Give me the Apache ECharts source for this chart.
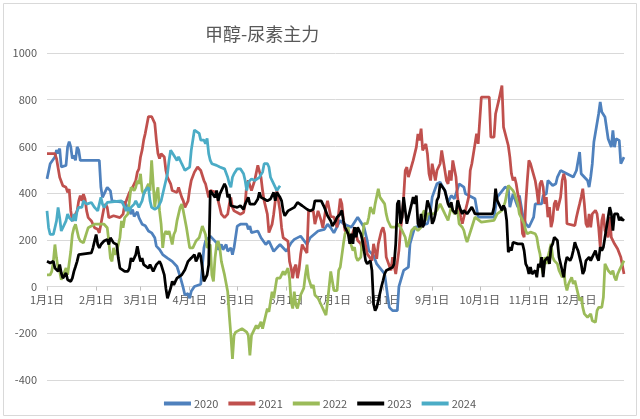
<!doctype html>
<html lang="zh">
<head>
  <meta charset="UTF-8">
  <title>甲醇-尿素主力</title>
  <style>
    html, body { margin: 0; padding: 0; background: #fff; }
  </style>
</head>
<body>
<div id="main" style="width: 640px;height: 419px"></div>
<script src="https://cdn.jsdelivr.net/npm/echarts@6/dist/echarts.min.js"></script>
<script>
    // day-of-year (0 = 1月1日) and spread value
    const years = ['2020', '2021', '2022', '2023', '2024'];
    const yTicks = [-400, -200, 0, 200, 400, 600, 800, 1000];
    const monthDays = [31, 28, 31, 30, 31, 30, 31, 31, 30, 31, 30, 31];

    const days2020 = [0,2,5,6,7,8,9,12,13,14,15,16,17,18,19,20,21,33,34,35,36,38,40,41,49,50,51,53,54,55,57,58,59,60,62,64,66,68,69,71,73,76,79,82,84,86,87,89,90,91,93,97,99,100,103,107,108,110,111,113,114,116,117,118,120,122,126,127,128,129,133,135,138,140,143,145,147,151,154,156,160,164,166,171,175,177,179,181,185,187,192,196,200,202,203,206,208,213,215,216,218,221,222,225,228,229,232,240,242,243,246,248,251,253,255,257,260,263,264,270,272,280,282,284,289,291,292,294,297,298,300,302,304,307,308,312,313,315,316,319,321,322,324,328,332,334,336,337,341,342,343,344,345,346,348,349,350,352,354,356,357,358,359,361,362,364];
    const vals2020 = [461,526,555,584,570,591,512,519,598,620,598,548,562,540,598,584,540,540,425,382,396,425,410,367,360,367,339,310,330,300,320,295,300,267,260,238,230,209,173,159,137,122,108,86,43,-7,-36,-30,-50,-20,0,10,166,195,216,187,158,180,158,180,151,166,137,166,259,267,267,245,259,231,238,209,180,195,151,166,180,151,187,202,216,180,209,238,245,267,252,230,283,269,254,297,254,197,154,133,97,54,-46,-89,-103,-103,0,69,83,183,254,269,326,383,440,447,411,361,390,376,440,426,397,376,297,297,297,383,426,419,340,397,340,390,311,269,254,297,354,354,390,397,454,433,440,469,497,483,469,497,576,483,454,426,469,526,619,619,740,790,747,726,633,597,669,597,633,626,526,554];

    const days2021 = [0,5,6,8,10,12,13,14,15,16,17,18,19,20,21,22,23,24,25,26,28,30,32,33,34,35,36,37,38,39,42,46,48,49,50,52,54,55,56,57,58,59,60,61,62,64,66,68,69,70,71,72,74,75,76,78,79,82,83,85,86,87,89,90,91,93,95,96,97,99,100,101,102,103,107,108,109,110,112,114,115,116,117,118,120,122,124,125,126,127,129,131,133,134,135,136,137,139,140,141,142,143,144,145,146,147,148,149,152,153,154,155,156,157,158,159,160,161,162,164,165,168,169,171,173,174,176,177,179,181,183,185,186,187,188,192,194,196,198,199,200,202,205,206,208,209,211,212,213,214,217,218,220,222,223,224,225,226,227,228,231,233,234,235,236,237,239,240,241,242,243,245,246,248,249,252,253,254,255,256,258,259,261,262,264,265,266,267,268,270,271,272,273,274,279,280,282,283,284,285,287,288,289,291,292,293,294,295,296,297,298,299,300,301,302,303,304,305,308,309,310,311,312,313,314,315,316,317,318,319,320,321,322,324,325,326,327,328,329,333,334,335,336,337,338,339,340,341,342,343,344,346,347,348,349,350,351,352,354,355,356,358,360,362,363,364];
    const vals2021 = [569,569,548,468,432,425,403,417,324,281,274,310,324,367,389,367,396,375,324,295,281,252,245,230,267,303,339,353,339,295,303,295,310,353,367,403,425,432,454,490,504,555,584,627,656,728,728,699,627,569,548,569,555,497,468,440,411,403,425,382,367,339,367,417,454,490,512,519,497,454,440,411,382,411,404,367,339,310,295,310,353,382,339,324,317,310,317,353,440,454,411,454,519,526,468,411,367,310,231,231,267,310,367,411,367,324,252,209,195,108,79,36,79,94,36,72,137,180,166,144,324,324,267,324,281,252,339,367,300,297,254,376,354,283,240,211,254,197,183,154,211,140,111,183,119,183,240,254,226,126,69,126,54,154,240,297,383,497,511,469,540,597,654,626,676,583,611,569,483,454,526,454,497,526,583,454,440,497,454,540,469,383,297,269,326,354,383,497,526,611,654,611,711,811,811,640,640,740,740,797,861,683,683,604,554,483,454,469,440,397,369,326,226,211,354,454,540,526,454,411,354,440,454,426,354,383,297,340,254,283,354,369,326,383,454,483,454,269,261,261,297,326,354,383,419,354,269,254,311,254,311,326,311,254,169,283,311,240,211,297,211,183,161,126,119,54];

    const days2022 = [0,2,3,4,5,6,7,8,9,10,12,13,14,15,16,17,18,19,20,21,23,24,25,26,28,30,36,38,39,40,41,42,43,44,46,47,48,49,51,52,53,55,56,57,58,59,60,61,64,65,66,67,68,69,70,71,72,73,74,75,76,77,78,79,80,81,82,84,85,86,88,90,92,94,96,98,100,101,103,104,105,106,107,108,109,110,112,114,115,116,117,118,119,123,126,127,128,129,132,133,135,136,137,138,139,140,141,142,143,144,145,147,149,150,152,153,154,155,156,157,158,159,160,162,163,164,165,167,168,169,171,173,175,176,177,179,181,183,184,185,187,188,190,191,193,194,195,196,198,199,200,202,203,204,205,206,207,209,210,213,214,215,217,220,221,223,224,226,227,228,230,232,234,236,237,238,239,240,242,244,246,248,251,253,255,257,259,260,262,263,264,265,266,268,270,274,282,284,287,289,291,292,294,295,297,298,299,301,302,303,305,308,309,310,311,312,313,314,315,316,317,318,319,320,322,323,325,326,327,328,329,330,331,332,333,334,335,336,337,338,339,341,343,344,346,347,348,350,351,352,353,354,356,357,358,359,360,361,362,363,364];
    const vals2022 = [50,50,65,108,180,122,79,65,29,36,79,50,58,151,223,252,267,238,209,195,187,209,231,252,259,267,267,252,195,122,108,166,137,151,209,281,252,295,310,367,425,411,425,454,440,483,411,396,440,411,540,540,339,396,425,324,267,166,223,238,223,238,209,180,223,238,281,339,353,324,252,166,166,195,209,259,223,166,180,50,22,122,180,195,166,108,50,-22,-122,-209,-310,-209,-195,-180,-195,-209,-295,-209,-166,-180,-151,-180,-151,-122,-94,-108,-65,-22,-50,-7,36,36,65,50,79,36,-65,-94,-22,-79,-94,-101,-36,-7,50,94,36,-7,7,-36,-50,-79,-108,-122,-65,65,-17,-17,69,83,183,226,254,197,154,169,126,111,126,211,269,269,297,340,340,311,354,419,383,354,311,283,254,254,269,254,240,211,169,183,240,254,240,254,311,326,283,311,311,311,326,354,311,283,340,311,326,269,254,240,211,190,197,254,297,276,283,311,326,361,433,440,411,397,354,311,297,269,240,226,233,226,211,169,140,83,54,126,97,126,154,183,126,111,97,69,40,69,11,-17,11,26,40,11,26,-3,-31,-60,-46,-89,-117,-131,-117,-146,-153,-103,-89,-89,-46,97,83,69,54,69,40,26,54,69,69,97,111];

    const days2023 = [0,2,3,4,5,6,7,8,9,10,12,13,14,15,16,17,18,19,20,21,28,29,30,31,32,33,34,35,36,37,38,39,40,42,44,45,46,47,49,51,52,53,54,55,56,57,58,59,60,61,62,64,65,66,67,68,69,70,71,72,74,75,76,77,78,79,80,81,82,85,87,89,91,93,94,95,96,97,98,99,100,101,102,103,104,106,107,108,109,112,113,114,115,116,120,121,122,124,125,127,128,131,133,134,135,137,139,141,143,144,145,147,148,149,150,152,156,158,159,161,164,166,168,169,173,175,177,179,180,182,183,185,186,187,188,190,191,192,193,194,195,196,198,199,200,201,202,204,205,206,207,208,209,211,212,213,214,218,219,220,221,222,223,224,225,226,227,230,231,232,233,234,235,236,237,238,240,242,243,244,245,246,247,248,251,252,253,254,255,256,258,259,261,262,263,265,268,269,270,281,282,283,284,287,288,289,290,291,292,293,294,295,297,300,301,302,303,304,305,306,308,309,310,311,312,313,314,316,317,318,319,320,321,322,323,325,326,327,328,330,331,332,333,334,335,336,337,338,339,340,342,343,344,346,347,348,349,350,351,352,353,354,355,356,357,358,360,361,362,363,364];
    const vals2023 = [108,101,94,108,79,86,65,94,58,36,58,29,22,22,36,65,86,108,137,144,144,166,195,223,180,166,180,187,195,187,202,180,209,187,180,122,79,72,65,65,79,122,108,122,137,173,137,108,122,94,101,79,94,86,65,72,94,86,108,94,50,-7,-50,-50,-7,22,7,22,36,50,72,108,122,137,108,122,144,130,79,22,36,50,94,411,418,382,411,367,396,440,425,382,396,346,339,331,346,331,353,382,353,353,375,403,382,375,367,375,403,367,403,382,367,324,303,324,339,360,367,346,331,324,331,367,367,339,303,281,259,281,297,311,326,283,254,226,183,226,183,254,211,254,226,197,154,111,97,111,69,-74,-103,-89,-60,0,26,54,69,83,97,183,354,369,269,297,383,326,269,354,383,354,390,269,254,311,254,269,369,326,269,283,311,369,383,440,411,419,354,340,361,326,311,369,326,311,326,311,340,326,311,311,340,419,369,326,347,333,283,147,169,154,190,197,183,183,154,97,83,54,83,54,69,40,97,83,126,40,111,126,97,169,183,211,219,197,126,69,40,97,126,111,126,154,190,169,154,126,97,54,69,111,126,111,126,154,126,111,169,154,169,211,254,297,340,311,240,311,311,283,297,283,290];

    const days2024 = [0,1,2,4,5,6,7,8,9,10,12,13,14,15,16,17,18,19,20,21,22,23,24,25,28,29,30,31,32,33,34,35,36,37,38,39,47,48,49,50,51,52,53,55,56,57,58,59,60,61,62,64,65,66,68,70,72,74,75,76,77,78,79,80,81,82,83,85,86,87,88,90,91,93,96,97,99,100,101,102,103,104,105,107,109,112,113,114,115,116,117,118,120,122,124,125,126,127,129,131,134,136,137,139,140,141,143,145,146,147];
    const vals2024 = [324,252,223,223,231,281,339,295,238,252,281,310,295,303,281,310,281,324,339,331,339,367,360,353,360,353,339,331,324,353,382,353,339,331,360,367,367,353,339,324,339,324,339,353,367,353,339,353,367,396,411,425,367,339,331,339,367,425,454,483,540,584,584,562,569,540,555,526,512,497,497,511,583,670,656,627,627,612,634,569,540,526,533,519,512,504,497,468,440,425,468,483,504,504,483,454,411,447,461,454,468,490,526,526,512,468,440,411,418,432];

    const colors = ['#4F81BD', '#C0504D', '#9BBB59', '#000000', '#4BACC6'];
    const seriesDays = [days2020, days2021, days2022, days2023, days2024];
    const seriesVals = [vals2020, vals2021, vals2022, vals2023, vals2024];

    // category names 1月1日 ... 12月31日
    let categories = [];
    monthDays.forEach(function (n, m) {
        for (let d = 1; d <= n; d++) {
            categories.push((m + 1) + '月' + d + '日');
        }
    });
    function isMonthStart(idx) {
        return /月1日$/.test(categories[idx]);
    }

    // grid box; the category axis is lifted from the bottom edge to the zero line
    const gridTop = 53, gridBottom = 39, chartH = 419;
    const plotH = chartH - gridTop - gridBottom;
    const yMin = yTicks[0], yMax = yTicks[yTicks.length - 1];
    const zeroLift = plotH * (0 - yMin) / (yMax - yMin);

    let myCharts = echarts.init(document.querySelector('#main'));
    myCharts.setOption({
        animation: false,
        color: colors,
        textStyle: {fontFamily: '"Noto Sans CJK SC", "Noto Sans", sans-serif'},
        title: {
            text: '甲醇-尿素主力',
            left: 200,
            top: 20,
            textStyle: {fontSize: 18, fontWeight: 'normal', color: '#595959'}
        },
        graphic: [{
            type: 'rect',
            shape: {x: 3.5, y: 3.5, width: 633, height: 412},
            style: {fill: 'none', stroke: '#d9d9d9', lineWidth: 1},
            silent: true
        }],
        legend: {
            data: years,
            left: 'center',
            top: 393,
            icon: 'rect',
            itemWidth: 27,
            itemHeight: 4,
            itemGap: 10,
            textStyle: {fontSize: 11, color: '#595959', padding: [0, 0, 0, -2]}
        },
        grid: {
            left: 47,
            right: 16,
            top: gridTop,
            bottom: gridBottom,
            containLabel: false
        },
        xAxis: {
            type: 'category',
            data: categories,
            boundaryGap: false,
            offset: -zeroLift,
            z: 0,
            axisLine: {onZero: false, lineStyle: {color: '#d9d9d9'}},
            axisTick: {
                show: true,
                length: 4,
                interval: function (idx) { return isMonthStart(idx); },
                lineStyle: {color: '#bfbfbf'}
            },
            axisLabel: {
                interval: function (idx) { return isMonthStart(idx); },
                fontSize: 11,
                color: '#595959',
                margin: 8
            },
            splitLine: {show: false}
        },
        yAxis: {
            type: 'value',
            min: yMin,
            max: yMax,
            interval: 200,
            axisLine: {show: false},
            axisTick: {show: false},
            axisLabel: {
                fontSize: 11,
                color: '#595959',
                margin: 10,
                formatter: function (v) { return String(v); }
            },
            splitLine: {lineStyle: {color: '#d9d9d9'}}
        },
        series: years.map(function (name, k) {
            return {
                name: name,
                type: 'line',
                z: 3,
                showSymbol: false,
                symbol: 'none',
                lineStyle: {width: 2.75, color: colors[k]},
                itemStyle: {color: colors[k]},
                data: seriesDays[k].map(function (d, i) { return [d, seriesVals[k][i]]; })
            };
        })
    });
</script>
</body>
</html>
